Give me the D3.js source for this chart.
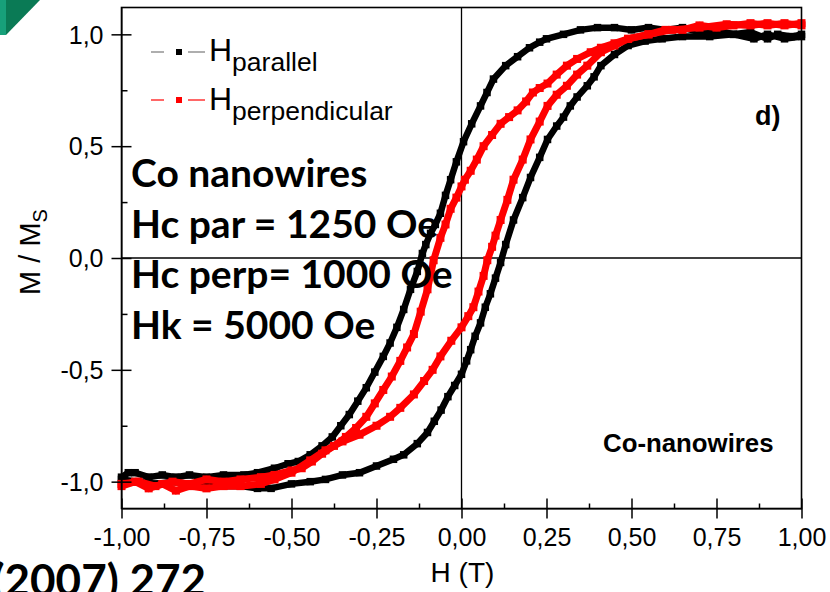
<!DOCTYPE html>
<html>
<head>
<meta charset="utf-8">
<script src="https://cdn.jsdelivr.net/npm/d3@7"></script>
<style>
  body { margin: 0; background: #fff; }
  svg { display: block; }
</style>
</head>
<body>
<script>
// Canvas size
let width = 830;
let height = 592;

// Plot frame in pixels
let plotLeft = 121.5;
let plotRight = 801.5;
let plotTop = 7.5;
let plotBottom = 508.5;

// Axis ticks
var xTicks = [-1, -0.75, -0.5, -0.25, 0, 0.25, 0.5, 0.75, 1];
var xMinor = [-0.875, -0.625, -0.375, -0.125, 0.125, 0.375, 0.625, 0.875];
var yTicks = [-1, -0.5, 0, 0.5, 1];
var yMinor = [-0.75, -0.25, 0.25, 0.75];

// Series names
var seriesNames = ['parallel', 'perpendicular'];

// H parallel, field sweep from +1 T down to -1 T  [H, M/Ms]
var parDown = [
  [1.00, 1.00], [0.97, 0.99], [0.93, 1.00], [0.90, 0.98], [0.85, 1.01], [0.80, 1.00],
  [0.75, 1.02], [0.70, 1.01], [0.65, 1.03], [0.60, 1.02], [0.55, 1.03], [0.50, 1.02],
  [0.45, 1.03], [0.40, 1.03], [0.35, 1.02], [0.30, 1.00], [0.25, 0.98], [0.23, 0.965],
  [0.20, 0.94], [0.165, 0.90], [0.13, 0.86], [0.094, 0.80], [0.075, 0.74], [0.056, 0.68],
  [0.03, 0.60], [0.006, 0.52], [-0.015, 0.43], [-0.032, 0.35], [-0.047, 0.28], [-0.062, 0.20],
  [-0.077, 0.15], [-0.091, 0.11], [-0.105, 0.06], [-0.115, 0.02], [-0.13, -0.06], [-0.15, -0.14],
  [-0.17, -0.23], [-0.19, -0.31], [-0.21, -0.38], [-0.23, -0.44], [-0.255, -0.51], [-0.28, -0.58],
  [-0.305, -0.64], [-0.33, -0.70], [-0.355, -0.75], [-0.38, -0.80], [-0.41, -0.84], [-0.445, -0.88],
  [-0.48, -0.91], [-0.51, -0.92], [-0.55, -0.94], [-0.60, -0.96], [-0.64, -0.97], [-0.70, -0.97],
  [-0.75, -0.98], [-0.80, -0.97], [-0.84, -0.98], [-0.88, -0.97], [-0.92, -0.98], [-0.96, -0.96],
  [-0.98, -0.96], [-1.00, -0.98]
];

// H parallel, field sweep from -1 T up to +1 T
var parUp = [
  [-1.00, -0.99], [-0.95, -1.00], [-0.90, -1.01], [-0.85, -1.00], [-0.80, -1.01], [-0.74, -1.00],
  [-0.70, -1.02], [-0.65, -1.02], [-0.60, -1.03], [-0.56, -1.03], [-0.50, -1.01], [-0.445, -1.00],
  [-0.40, -0.99], [-0.35, -0.97], [-0.30, -0.96], [-0.25, -0.93], [-0.20, -0.90], [-0.17, -0.88],
  [-0.13, -0.83], [-0.10, -0.78], [-0.08, -0.73], [-0.06, -0.68], [-0.04, -0.62], [-0.02, -0.57],
  [0.00, -0.52], [0.015, -0.46], [0.027, -0.41], [0.04, -0.35], [0.056, -0.29], [0.07, -0.22],
  [0.085, -0.16], [0.10, -0.09], [0.115, -0.02], [0.13, 0.06], [0.153, 0.17], [0.18, 0.27],
  [0.203, 0.36], [0.23, 0.45], [0.253, 0.53], [0.28, 0.59], [0.30, 0.63], [0.32, 0.68],
  [0.34, 0.72], [0.37, 0.77], [0.39, 0.81], [0.41, 0.86], [0.45, 0.91], [0.49, 0.95],
  [0.54, 0.97], [0.59, 0.98], [0.65, 0.99], [0.73, 0.99], [0.80, 1.00], [0.86, 0.98],
  [0.90, 1.00], [0.95, 0.98], [1.00, 0.99]
];

// H perpendicular, field sweep from +1 T down to -1 T
var perpDown = [
  [1.00, 1.04], [0.95, 1.05], [0.90, 1.04], [0.85, 1.05], [0.80, 1.04], [0.75, 1.03],
  [0.70, 1.04], [0.65, 1.02], [0.60, 1.02], [0.55, 1.00], [0.49, 0.98], [0.45, 0.96],
  [0.41, 0.94], [0.38, 0.92], [0.34, 0.89], [0.31, 0.86], [0.28, 0.82], [0.253, 0.78],
  [0.23, 0.76], [0.21, 0.74], [0.19, 0.70], [0.165, 0.66], [0.14, 0.63], [0.115, 0.60],
  [0.09, 0.55], [0.065, 0.50], [0.045, 0.44], [0.027, 0.39], [0.01, 0.35], [0.00, 0.32],
  [-0.015, 0.27], [-0.032, 0.22], [-0.047, 0.15], [-0.062, 0.09], [-0.082, -0.01], [-0.10, -0.14],
  [-0.12, -0.24], [-0.14, -0.34], [-0.16, -0.40], [-0.18, -0.46], [-0.205, -0.53], [-0.23, -0.59],
  [-0.255, -0.65], [-0.28, -0.71], [-0.31, -0.76], [-0.34, -0.80], [-0.375, -0.84], [-0.41, -0.875],
  [-0.44, -0.91], [-0.47, -0.94], [-0.50, -0.95], [-0.55, -0.97], [-0.59, -0.98], [-0.65, -0.99],
  [-0.70, -1.00], [-0.75, -0.99], [-0.80, -1.01], [-0.85, -1.00], [-0.90, -1.02], [-0.95, -1.00],
  [-1.00, -1.01]
];

// H perpendicular, field sweep from -1 T up to +1 T
var perpUp = [
  [-1.00, -1.02], [-0.96, -1.00], [-0.92, -1.03], [-0.88, -1.01], [-0.84, -1.04], [-0.80, -1.02],
  [-0.75, -1.03], [-0.70, -1.02], [-0.65, -1.02], [-0.59, -1.01], [-0.55, -0.99], [-0.50, -0.96],
  [-0.445, -0.905], [-0.40, -0.86], [-0.35, -0.82], [-0.30, -0.79], [-0.25, -0.75], [-0.21, -0.71],
  [-0.18, -0.67], [-0.14, -0.61], [-0.11, -0.55], [-0.085, -0.50], [-0.062, -0.44], [-0.03, -0.37],
  [0.00, -0.31], [0.02, -0.26], [0.035, -0.22], [0.05, -0.15], [0.065, -0.08], [0.076, -0.01],
  [0.09, 0.05], [0.10, 0.10], [0.115, 0.17], [0.135, 0.26], [0.153, 0.35], [0.18, 0.44],
  [0.203, 0.53], [0.23, 0.61], [0.253, 0.68], [0.28, 0.73], [0.31, 0.77], [0.34, 0.82],
  [0.37, 0.86], [0.41, 0.92], [0.45, 0.95], [0.49, 0.98], [0.55, 1.00], [0.62, 1.02],
  [0.70, 1.03], [0.78, 1.045], [0.85, 1.04], [0.90, 1.05], [0.95, 1.04], [1.00, 1.05]
];

// Annotation texts
var infoLines = ['Co nanowires', 'Hc par = 1250 Oe', 'Hc perp= 1000 Oe', 'Hk = 5000 Oe'];

// Comma decimals and a plain hyphen for minus
var locale = d3.formatLocale({ decimal: ',', thousands: '.', grouping: [3], currency: ['', ''], minus: '-' });

var svg = d3.select('body')
            .append('svg')
            .attr('width', width)
            .attr('height', height);

// Green corner decoration
svg.append('rect').attr('x', 0).attr('y', 0).attr('width', 6).attr('height', 35).attr('fill', '#17a07a');
svg.append('path').attr('d', 'M6,0 L40,0 L6,35 Z').attr('fill', '#0a7a55');

var x = d3.scaleLinear().domain([-1, 1]).range([plotLeft, plotRight]);
var y = d3.scaleLinear().domain([-1.12, 1.12]).range([plotBottom, plotTop]);

// Zero lines
svg.append('line').attr('x1', x(0)).attr('x2', x(0)).attr('y1', plotTop).attr('y2', plotBottom)
   .attr('stroke', '#000').attr('stroke-width', 1.3);
svg.append('line').attr('x1', plotLeft).attr('x2', plotRight).attr('y1', y(0)).attr('y2', y(0))
   .attr('stroke', '#000').attr('stroke-width', 1.3);

// Curves: thick line plus square markers at every read point
var line = d3.line().x(d => x(d[0])).y(d => y(d[1]));

function drawBranch(data, color, w) {
  svg.append('path').datum(data).attr('d', line)
     .attr('fill', 'none').attr('stroke', color).attr('stroke-width', w);
  svg.append('g').selectAll('rect').data(data).enter().append('rect')
     .attr('x', d => x(d[0]) - w / 2 - 0.5).attr('y', d => y(d[1]) - w / 2 - 0.5)
     .attr('width', w + 1).attr('height', w + 1).attr('fill', color);
}

drawBranch(parDown, '#000', 6.5);
drawBranch(parUp, '#000', 6.5);
drawBranch(perpDown, '#ff0000', 7);
drawBranch(perpUp, '#ff0000', 7);

// Axes
var xAxis = svg.append('g').attr('transform', 'translate(0,' + plotBottom + ')')
  .call(d3.axisBottom(x).tickValues(xTicks).tickFormat(locale.format('.2f')).tickSize(10).tickSizeOuter(0));
xAxis.selectAll('.tick line').attr('y1', -10).attr('stroke-width', 1.5);
xAxis.selectAll('.tick text').attr('y', 37).attr('dy', null);
svg.append('g').attr('transform', 'translate(0,' + plotBottom + ')')
  .call(d3.axisBottom(x).tickValues(xMinor).tickFormat('').tickSize(-5).tickSizeOuter(0))
  .call(g => g.select('.domain').remove())
  .selectAll('line').attr('stroke-width', 1.5);

var yAxis = svg.append('g').attr('transform', 'translate(' + plotLeft + ',0)')
  .call(d3.axisLeft(y).tickValues(yTicks).tickFormat(locale.format('.1f')).tickSize(10).tickSizeOuter(0));
yAxis.selectAll('.tick line').attr('x1', 10).attr('stroke-width', 1.5);
yAxis.selectAll('.tick text').attr('x', -18).attr('dy', '0.35em');
svg.append('g').attr('transform', 'translate(' + plotLeft + ',0)')
  .call(d3.axisLeft(y).tickValues(yMinor).tickFormat('').tickSize(-6).tickSizeOuter(0))
  .call(g => g.select('.domain').remove())
  .selectAll('line').attr('stroke-width', 1.5);

svg.selectAll('.tick text')
   .attr('font-family', '"Liberation Sans", Arial, sans-serif')
   .attr('font-size', 25).attr('fill', '#000');

// Plot frame
svg.append('rect').attr('x', plotLeft).attr('y', plotTop)
   .attr('width', plotRight - plotLeft).attr('height', plotBottom - plotTop)
   .attr('fill', 'none').attr('stroke', '#000').attr('stroke-width', 1.6);

// Axis titles
svg.append('text').attr('x', x(0) + 1).attr('y', 582)
   .attr('text-anchor', 'middle')
   .attr('font-family', '"Liberation Sans", Arial, sans-serif').attr('font-size', 28)
   .text('H (T)');

var yTitle = svg.append('text')
   .attr('transform', 'translate(40,252) rotate(-90)')
   .attr('text-anchor', 'middle')
   .attr('font-family', '"Liberation Sans", Arial, sans-serif').attr('font-size', 29);
yTitle.append('tspan').text('M / M');
yTitle.append('tspan').attr('font-size', 20).attr('dy', 7).text('S');

// Legend
var legendRows = [
  { name: seriesNames[0], color: '#000', line: '#777', y: 52, base: 61 },
  { name: seriesNames[1], color: '#ff0000', line: '#ff0000', y: 100, base: 110 }
];
legendRows.forEach(function(r) {
  svg.append('line').attr('x1', 151).attr('x2', 164).attr('y1', r.y).attr('y2', r.y)
     .attr('stroke', r.line).attr('stroke-width', 1.2);
  svg.append('line').attr('x1', 188).attr('x2', 205).attr('y1', r.y).attr('y2', r.y)
     .attr('stroke', r.line).attr('stroke-width', 1.2);
  svg.append('rect').attr('x', 176).attr('y', r.y - 3).attr('width', 6).attr('height', 6)
     .attr('fill', r.color);
  var t = svg.append('text').attr('x', 209).attr('y', r.base)
     .attr('font-family', '"Liberation Sans", Arial, sans-serif').attr('font-size', 32);
  t.append('tspan').text('H');
  t.append('tspan').attr('font-size', 26.5).attr('dy', 10).text(r.name);
});

// Panel label and sample name
svg.append('text').attr('x', 755).attr('y', 125)
   .attr('font-family', '"Liberation Sans", Arial, sans-serif').attr('font-weight', 'bold')
   .attr('font-size', 27).text('d)');
svg.append('text').attr('x', 603).attr('y', 452)
   .attr('font-family', '"Liberation Sans", Arial, sans-serif').attr('font-weight', 'bold')
   .attr('font-size', 25.8).text('Co-nanowires');

// Overlay annotation block
infoLines.forEach(function(s, i) {
  svg.append('text').attr('x', 131).attr('y', 187 + i * 50.7)
     .attr('font-family', 'Lato, "Open Sans", sans-serif').attr('font-weight', 'bold')
     .attr('font-size', 39).attr('fill', '#000').text(s);
});

// Reference text, cut by the bottom and left edges as in the source
svg.append('text').attr('x', 206).attr('y', 596).attr('text-anchor', 'end')
   .attr('font-family', 'Lato, "Open Sans", sans-serif').attr('font-weight', 'bold')
   .attr('font-size', 44).text('(2007) 272');
</script>
</body>
</html>
